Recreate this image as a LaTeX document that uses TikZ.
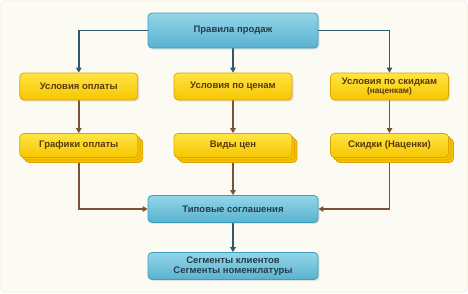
\documentclass[tikz,border=0pt]{standalone}
\usepackage{fontspec}
\setmainfont{Liberation Sans}
\usepackage{xcolor}
\usetikzlibrary{arrows.meta, positioning, calc, backgrounds, shadows}
\definecolor{paperbg}{HTML}{FCFBF3}
\definecolor{paperrim}{HTML}{ECE6D2}
\definecolor{skytop}{HTML}{92D6E8}
\definecolor{skybot}{HTML}{5AB2CF}
\definecolor{skyrim}{HTML}{38A0BE}
\definecolor{skytext}{HTML}{263C4B}
\definecolor{goldtop}{HTML}{FFE544}
\definecolor{goldbot}{HTML}{F6C500}
\definecolor{goldrim}{HTML}{DDA300}
\definecolor{goldtext}{HTML}{5A3A0C}
\definecolor{tealline}{HTML}{2D5A6B}
\definecolor{brownline}{HTML}{7A5234}
\tikzset{
  skybox/.style={draw=skyrim, line width=0.8pt, rounded corners=4pt,
                 top color=skytop, bottom color=skybot,
                 minimum width=170pt, minimum height=#1, inner sep=2pt,
                 font=\fontsize{9.5}{10.5}\selectfont\bfseries, text=skytext, align=center,
                 drop shadow={shadow xshift=1.5pt, shadow yshift=-1.5pt, opacity=0.2}},
  skybox/.default=27pt,
  goldbox/.style={draw=goldrim, line width=0.7pt, rounded corners=4pt,
                  top color=goldtop, bottom color=goldbot,
                  minimum width=118pt, minimum height=#1, inner sep=2pt,
                  font=\fontsize{9.5}{10.5}\selectfont\bfseries, text=goldtext, align=center,
                  drop shadow={shadow xshift=1.5pt, shadow yshift=-1.5pt, opacity=0.2}},
  goldbox/.default=27pt,
  goldstack/.style={goldbox=24pt,
                    double copy shadow={shadow xshift=2.5pt, shadow yshift=-2.5pt,
                                        fill=goldbot, draw=goldrim, line width=0.7pt}},
  tealflow/.style={-{Triangle[length=5pt, width=5.5pt]}, line width=1.6pt, color=tealline},
  brownflow/.style={-{Triangle[length=5pt, width=5.5pt]}, line width=1.6pt, color=brownline},
}
\begin{document}
\begin{tikzpicture}[x=1pt, y=-1pt]
  \useasboundingbox (0,0) rectangle (468,293);
  % paper
  \begin{pgfonlayer}{background}
    \draw[fill=paperbg, draw=paperrim, rounded corners=6pt] (0.5,0.5) rectangle (467.5,292.5);
  \end{pgfonlayer}
  % top
  \node[skybox=35pt] (rules) at (233,30.5) {Правила продаж};
  % terms
  \node[goldbox] (payterms)   at (78.8,86.5)  {Условия оплаты};
  \node[goldbox] (priceterms) at (233,86.5)   {Условия по ценам};
  \node[goldbox] (discterms)  at (389.5,86.5) {Условия по скидкам\\[-1.5pt]{\fontsize{8.3}{9}\selectfont(наценкам)}};
  % stacks
  \node[goldstack] (payplans)   at (78.8,145.5)  {Графики оплаты};
  \node[goldstack] (pricetypes) at (233,145.5)   {Виды цен};
  \node[goldstack] (discounts)  at (389.5,145.5) {Скидки (Наценки)};
  % agreements
  \node[skybox] (agreements) at (233,209) {Типовые соглашения};
  \node[skybox] (segments)   at (233,266) {Сегменты клиентов\\Сегменты номенклатуры};
  % links
  \begin{scope}[on background layer]
    \draw[tealflow] (rules.west) -| (payterms.north);
    \draw[tealflow] (rules.south) -- (priceterms.north);
    \draw[tealflow] (rules.east) -| (discterms.north);
    \draw[brownflow] (payterms.south) -- (payplans.north);
    \draw[brownflow] (priceterms.south) -- (pricetypes.north);
    \draw[brownflow] (discterms.south) -- (discounts.north);
    \draw[brownflow] (payplans.south) |- (agreements.west);
    \draw[brownflow] (pricetypes.south) -- (agreements.north);
    \draw[brownflow] (discounts.south) |- (agreements.east);
    \draw[tealflow] (agreements.south) -- (segments.north);
  \end{scope}
\end{tikzpicture}
\end{document}
